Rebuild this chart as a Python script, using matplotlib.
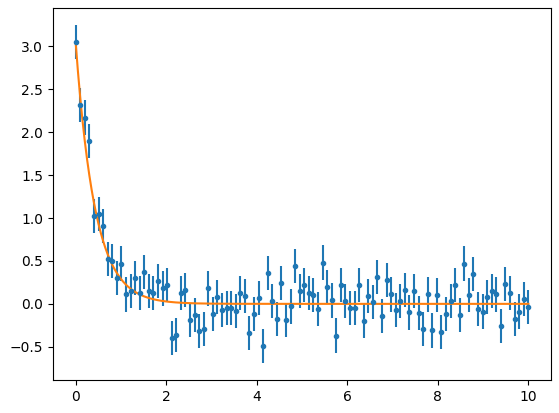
import numpy as np
import matplotlib
matplotlib.use("Agg")
import matplotlib.pyplot as plt

x = np.linspace(0, 10, 100)
y = [3.05, 2.32, 2.17, 1.90, 1.02, 1.05, 0.91, 0.52, 0.50, 0.30,
     0.47, 0.11, 0.15, 0.30, 0.13, 0.37, 0.15, 0.13, 0.27, 0.18,
     0.22, -0.40, -0.36, 0.13, 0.16, -0.19, -0.13, -0.32, -0.29, 0.18,
     -0.12, 0.08, -0.07, -0.05, -0.05, -0.08, 0.13, 0.09, -0.34, -0.12,
     0.07, -0.49, 0.36, 0.03, -0.18, 0.24, -0.19, -0.03, 0.44, 0.15,
     0.22, 0.13, 0.10, -0.06, 0.48, 0.20, 0.04, -0.37, 0.22, 0.03,
     -0.05, -0.05, 0.22, -0.20, 0.09, 0.02, 0.31, -0.14, 0.28, 0.11,
     -0.07, 0.03, 0.16, -0.10, 0.15, -0.11, -0.29, 0.11, -0.31, 0.10,
     -0.33, -0.12, 0.03, 0.22, -0.13, 0.47, 0.10, 0.35, -0.06, -0.09,
     0.08, 0.15, 0.11, -0.26, 0.23, 0.13, -0.18, -0.09, 0.06, -0.04]
yerr = 0.2
fit_a = 3.05
fit_b = 2.35

fig = plt.figure(figsize=(5.59, 4.13), dpi=100)
ax = fig.add_axes([53/559, 33/413, 498/559, 372/413])
ax.errorbar(x, y, yerr=yerr, fmt='.')
xf = np.linspace(0, 10, 200)
ax.plot(xf, fit_a * np.exp(-fit_b * xf))
fig.savefig("out.png", dpi=100)
